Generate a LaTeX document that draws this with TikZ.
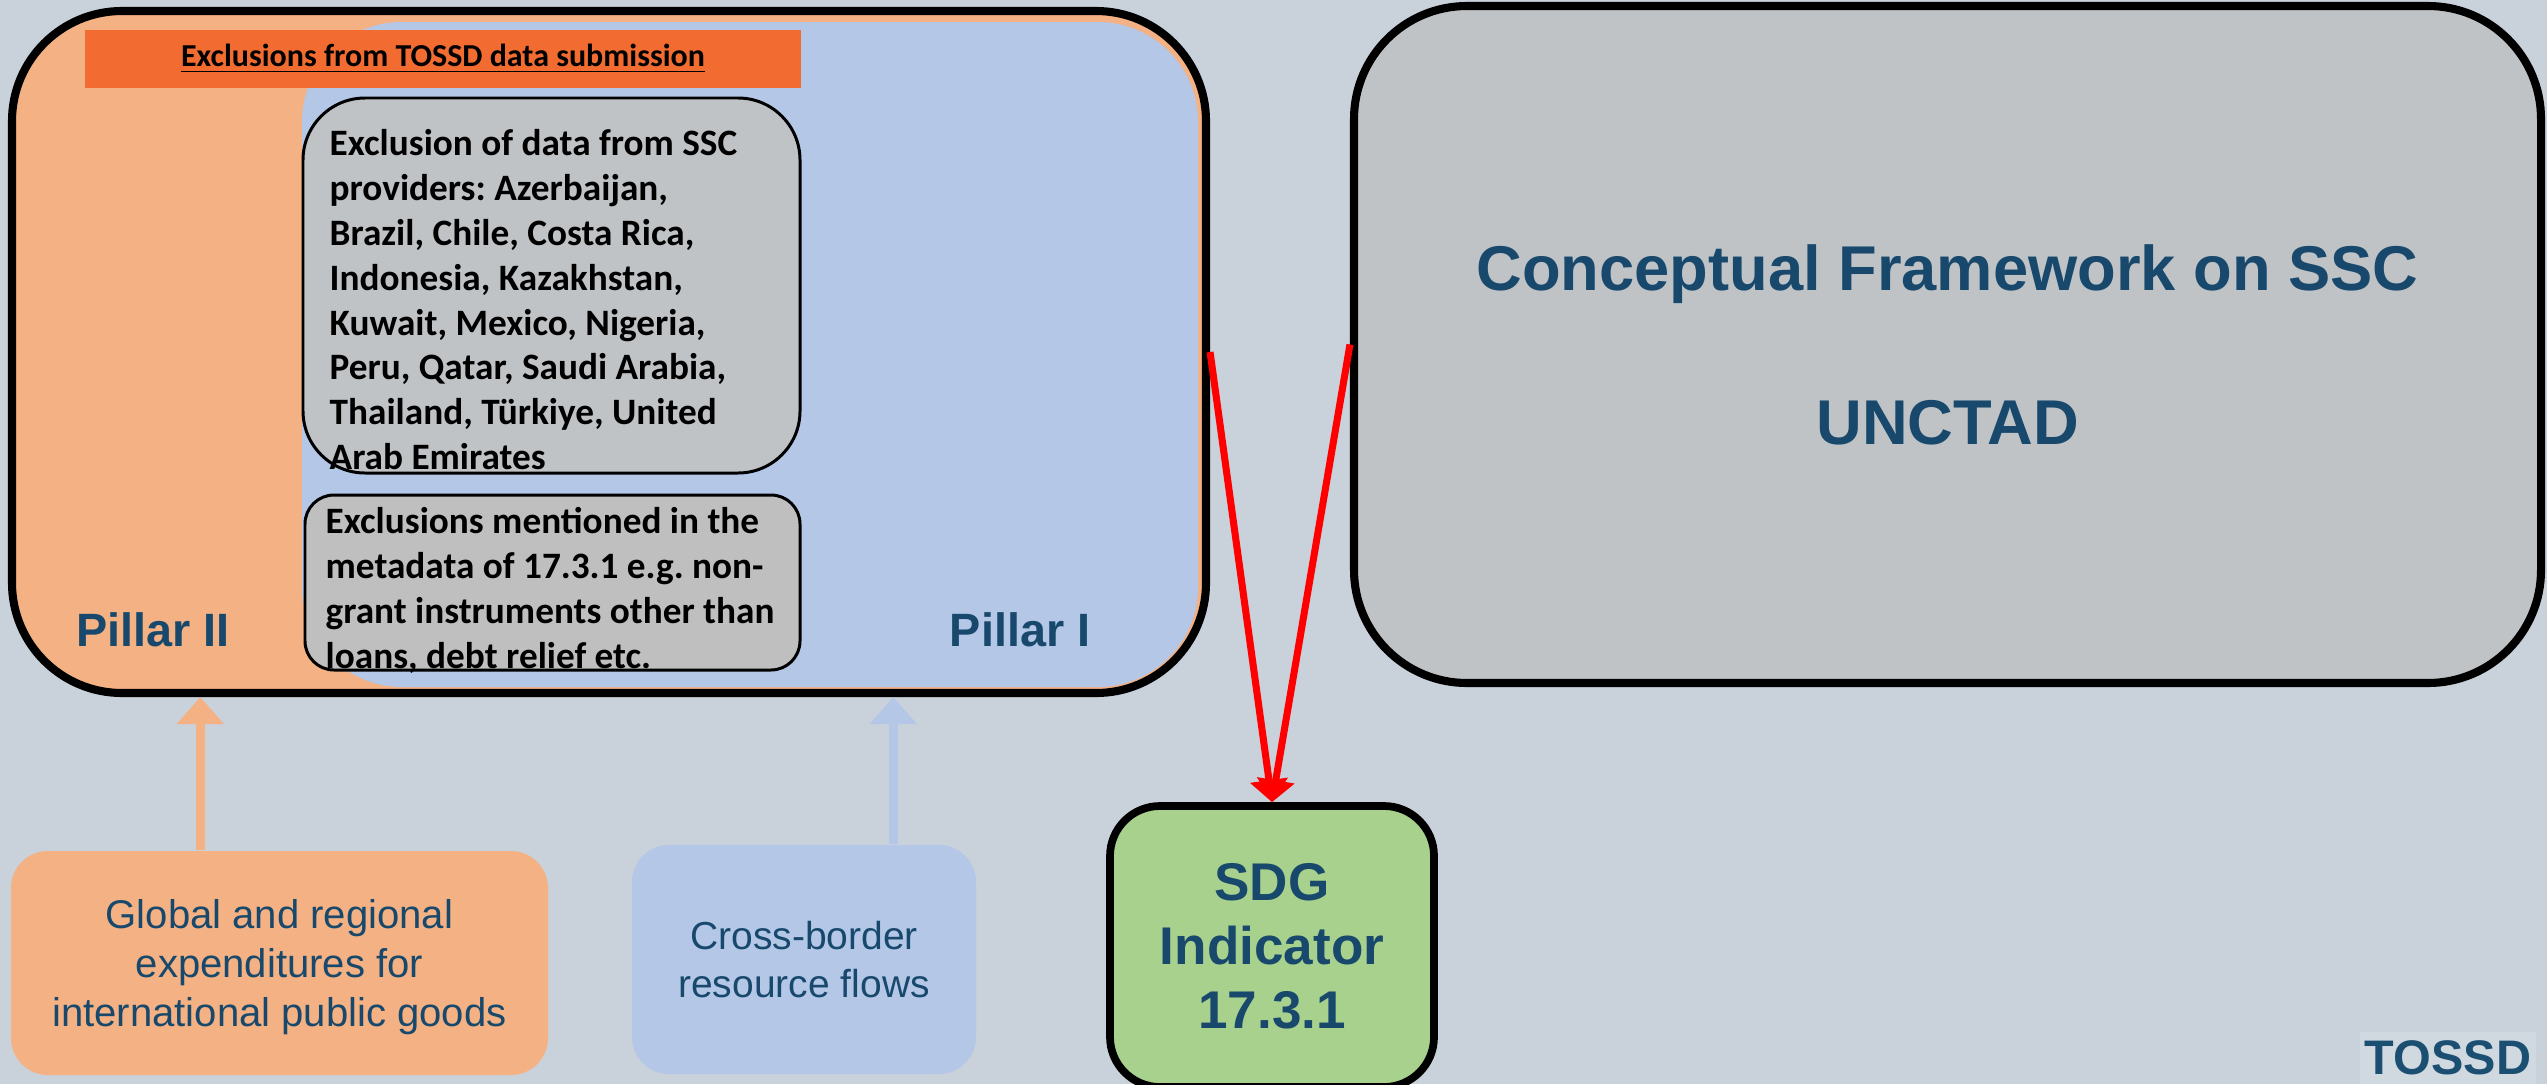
\documentclass[tikz,border=0pt]{standalone}
\usepackage{fontspec}
\setmainfont{Liberation Sans}
\newfontfamily\calibri{Carlito}
\usetikzlibrary{arrows.meta}
\frenchspacing

\definecolor{slide}{RGB}{201,209,218}
\definecolor{pillartwofill}{RGB}{244,177,131}
\definecolor{pillaronefill}{RGB}{180,199,231}
\definecolor{titleorange}{RGB}{242,108,49}
\definecolor{boxgray}{RGB}{192,195,198}
\definecolor{boxgraydark}{RGB}{191,191,191}
\definecolor{conceptgray}{RGB}{191,195,198}
\definecolor{sdggreen}{RGB}{169,209,142}
\definecolor{textblue}{RGB}{24,73,108}
\definecolor{logofill}{RGB}{208,216,224}
\definecolor{logoblue}{RGB}{27,79,114}

\begin{document}
\begin{tikzpicture}

    \tikzset{
      frame/.style={draw=black, line width=2.3pt, rounded corners=1.1cm, inner sep=0pt},
      region/.style={rounded corners=1.0cm, inner sep=0pt},
      exclbox/.style={draw=black, line width=0.85pt, inner sep=0pt},
      excltext/.style={font=\calibri\bfseries\fontsize{10.6}{12.75}\selectfont,
        align=left, inner sep=0pt, anchor=north west},
      pillar/.style={font=\bfseries\fontsize{13.3}{16}\selectfont, text=textblue, anchor=base},
      flowbox/.style={rounded corners=0.37cm, inner sep=0pt, align=center, text=textblue,
        font=\fontsize{11.1}{13.7}\selectfont},
      flow/.style={line width=2.7pt, -{Triangle[length=7.7pt, width=13pt]}},
      feed/.style={red, line width=2pt, -{Triangle[length=6.3pt, width=10.5pt]}},
    }

    \useasboundingbox (0,0) rectangle (25.47,10.84);
    \fill[slide] (0,0) rectangle (25.47,10.84);

    % pillar II frame, pillar I region inside it
    \node[frame, fill=pillartwofill, minimum width=11.94cm, minimum height=6.82cm] (frame) at (6.09,7.32) {};
    \node[region, fill=pillaronefill, minimum width=8.96cm, minimum height=6.65cm] (pillarone) at (7.50,7.295) {};
    \node[fill=titleorange, minimum width=7.16cm, minimum height=0.58cm, inner sep=0pt,
      font=\calibri\bfseries\fontsize{9.1}{11}\selectfont] (excltitle) at (4.43,10.25)
      {\underline{Exclusions from TOSSD data submission}};

    % exclusions
    \node[exclbox, fill=boxgray, rounded corners=0.62cm, minimum width=4.97cm, minimum height=3.75cm] (sscbox) at (5.515,7.985) {};
    \node[excltext] (ssctext) at (3.29,9.55) {Exclusion of data from SSC\\providers: Azerbaijan,\\Brazil, Chile, Costa Rica,\\Indonesia, Kazakhstan,\\Kuwait, Mexico, Nigeria,\\Peru, Qatar, Saudi Arabia,\\Thailand, Türkiye, United\\Arab Emirates};
    \node[exclbox, fill=boxgraydark, rounded corners=0.29cm, minimum width=4.95cm, minimum height=1.75cm] (metabox) at (5.525,5.015) {};
    \node[excltext] (metatext) at (3.25,5.77) {Exclusions mentioned in the\\metadata of 17.3.1 e.g. non-\\grant instruments other than\\loans, debt relief etc.};

    \node[pillar] (pillartwolabel) at (1.53,4.38) {Pillar II};
    \node[pillar] (pillaronelabel) at (10.20,4.38) {Pillar I};

    \node[frame, fill=conceptgray, rounded corners=1.13cm, minimum width=11.87cm, minimum height=6.77cm,
      align=center, text=textblue, font=\bfseries\fontsize{18}{21.9}\selectfont] (concept) at (19.475,7.395)
      {Conceptual Framework on SSC\\[21.9pt]UNCTAD};

    \node[draw=black, line width=2.2pt, fill=sdggreen, rounded corners=0.5cm, minimum width=3.24cm, minimum height=2.81cm,
      inner sep=0pt, align=center, text=textblue, font=\bfseries\fontsize{15.1}{18.2}\selectfont] (sdg) at (12.72,1.375)
      {SDG\\Indicator\\17.3.1};

    % flows
    \node[flowbox, fill=pillartwofill, minimum width=5.37cm, minimum height=2.24cm, text depth=0pt,
      font=\fontsize{11.4}{14}\selectfont] (global) at (2.795,1.21)
      {Global and regional\\expenditures for\\international public goods};
    \node[flowbox, fill=pillaronefill, minimum width=3.44cm, minimum height=2.29cm] (cross) at (8.04,1.245)
      {Cross-border\\resource flows};

    \coordinate (globalfoot) at ([xshift=1.9cm]global.north west);
    \coordinate (crossfoot) at ([xshift=2.62cm]cross.north west);
    \draw[flow, pillartwofill] (globalfoot) -- (globalfoot |- frame.south);
    \draw[flow, pillaronefill] (crossfoot) -- (crossfoot |- frame.south);

    \draw[feed] (frame.east) -- (sdg.north);
    \draw[feed] (concept.west) -- (sdg.north);

    \node[fill=logofill, minimum width=1.76cm, minimum height=0.52cm, inner sep=0pt, text=logoblue,
      font=\bfseries\fontsize{13.8}{14}\selectfont] (logo) at (24.48,0.26) {TOSSD};

\end{tikzpicture}
\end{document}
